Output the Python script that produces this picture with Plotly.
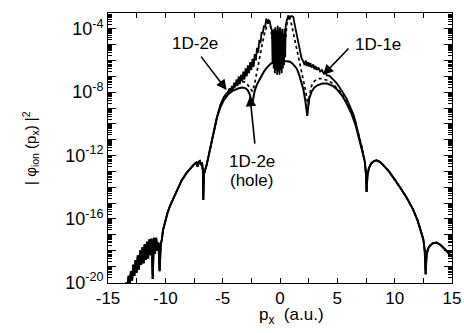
import plotly.graph_objects as go

# ---- shared wings (log10 |phi_ion(p_x)|^2) ----
wing_left_p = [-13.4, -13.3, -13.2, -13.1, -13.0, -12.9, -12.8, -12.7, -12.6, -12.5,
               -12.4, -12.3, -12.2, -12.1, -12.0, -11.9, -11.8, -11.7, -11.6, -11.5,
               -11.4, -11.3, -11.2, -11.1, -11.0, -10.9, -10.8, -10.7, -10.6, -10.5,
               -10.4, -10.3, -10.2, -10.0, -9.8, -9.6, -9.3, -9.0, -8.6, -8.15,
               -7.8, -7.55, -7.3, -7.2, -7.1, -7.0, -6.9, -6.8, -6.72, -6.69,
               -6.64, -6.5, -6.4, -6.25, -6.1, -5.95, -5.8, -5.65, -5.5]
wing_left_log = [-20.0, -20.3, -19.6, -20.1, -19.3, -19.9, -18.9, -19.6, -18.6, -19.4,
                 -18.3, -19.2, -18.0, -18.9, -17.8, -18.8, -17.6, -18.6, -17.45, -18.5,
                 -17.3, -18.3, -17.25, -19.8, -17.2, -18.2, -17.2, -18.0, -17.5, -19.3,
                 -17.6, -17.3, -16.7, -16.1, -15.6, -15.2, -14.7, -14.2, -13.6, -13.1,
                 -12.8, -12.6, -12.45, -12.7, -12.4, -12.35, -12.6, -12.45, -13.0, -14.8,
                 -13.2, -12.9, -12.6, -12.1, -11.6, -11.0, -10.5, -10.0, -9.6]

wing_right_p = [7.4, 7.5, 7.55, 7.62, 7.75, 7.95, 8.2, 8.42, 8.7, 9.0,
                9.5, 10.0, 10.46, 11.0, 11.6, 12.0, 12.3, 12.5, 12.62, 12.7,
                12.78, 12.9, 13.07, 13.3, 13.65, 14.0, 14.5, 15.0]
wing_right_log = [-12.4, -13.2, -14.3, -13.3, -12.8, -12.5, -12.35, -12.3, -12.4, -12.6,
                  -13.0, -13.5, -14.0, -14.6, -15.4, -16.1, -16.8, -17.3, -18.0, -19.5,
                  -18.3, -17.9, -17.7, -17.55, -17.5, -17.65, -18.0, -18.4]

# ---- 1D-1e (solid, upper) centre ----
one_e_p = [-5.2, -4.9, -4.7, -4.54, -4.4, -4.3, -4.2, -4.1, -4.0, -3.9,
           -3.8, -3.7, -3.6, -3.5, -3.4, -3.3, -3.2, -3.1, -3.0, -2.9,
           -2.8, -2.7, -2.6, -2.5, -2.4, -2.3, -2.2, -2.1, -2.0, -1.9,
           -1.8, -1.7, -1.6, -1.5, -1.4, -1.3, -1.2, -1.1, -1.0, -0.9,
           -0.8, -0.7, -0.65, -0.6, -0.55, -0.5, -0.45, -0.4, -0.35, -0.3,
           -0.25, -0.2, -0.15, -0.1, -0.05, 0.0, 0.05, 0.1, 0.15, 0.2,
           0.25, 0.3, 0.35, 0.4, 0.45, 0.5, 0.6, 0.72, 0.85, 0.95,
           1.05, 1.16, 1.3, 1.45, 1.6, 1.74, 1.88, 2.03, 2.15, 2.25,
           2.35, 2.45, 2.55, 2.65, 2.75, 2.9, 3.0, 3.1, 3.2, 3.35,
           3.5, 3.65, 3.8, 3.95, 4.1, 4.3, 4.5, 4.7, 4.9, 5.1,
           5.3, 5.55, 5.8, 6.0, 6.2, 6.4, 6.6, 6.8, 7.0, 7.2]
one_e_log = [-8.8, -8.3, -8.1, -8.0, -7.75, -8.0, -7.6, -7.9, -7.4, -7.7,
             -7.2, -7.6, -7.0, -7.5, -6.9, -7.3, -6.7, -7.2, -6.5, -7.0,
             -6.3, -6.8, -6.1, -6.6, -5.9, -6.4, -5.6, -6.0, -5.2, -5.5,
             -4.7, -4.9, -4.2, -4.3, -3.8, -3.9, -3.35, -3.6, -3.45, -3.5,
             -3.9, -4.1, -6.2, -4.2, -6.5, -4.0, -6.8, -3.9, -6.6, -4.1,
             -6.9, -3.8, -6.7, -4.0, -6.9, -3.9, -6.6, -4.1, -6.8, -4.0,
             -6.5, -4.3, -6.3, -4.0, -5.8, -3.8, -3.45, -3.15, -3.35, -3.2,
             -3.2, -3.25, -3.8, -4.3, -4.85, -5.4, -5.85, -6.06, -6.3, -6.0,
             -6.35, -6.1, -6.4, -6.15, -6.45, -6.25, -6.55, -6.35, -6.6, -6.45,
             -6.7, -6.6, -6.8, -6.75, -6.95, -6.95, -7.1, -7.2, -7.4, -7.6,
             -7.8, -8.1, -8.4, -8.7, -9.0, -9.4, -9.9, -10.5, -11.1, -11.8]

# ---- 1D-2e (dotted) centre ----
two_e_p = [-5.2, -4.9, -4.6, -4.3, -4.0, -3.7, -3.4, -3.1, -2.85, -2.6,
           -2.4, -2.25, -2.1, -1.95, -1.8, -1.65, -1.5, -1.35, -1.2, -1.05,
           -0.9, -0.8, -0.7, -0.6, -0.5, -0.4, -0.3, -0.2, -0.1, 0.0,
           0.1, 0.2, 0.3, 0.4, 0.5, 0.6, 0.72, 0.85, 1.0, 1.15,
           1.3, 1.5, 1.75, 2.03, 2.2, 2.35, 2.47, 2.58, 2.75, 3.0,
           3.3, 3.7, 4.1, 4.5, 4.93, 5.3, 5.7, 6.1, 6.5, 6.9, 7.2]
two_e_log = [-8.85, -8.4, -8.05, -7.8, -7.6, -7.45, -7.35, -7.35, -7.5, -7.75,
             -7.95, -7.6, -7.0, -6.4, -5.8, -5.3, -4.8, -4.3, -3.9, -3.6,
             -3.65, -3.95, -4.6, -4.1, -5.2, -4.3, -5.5, -4.4, -5.6, -4.5,
             -5.5, -4.4, -5.3, -4.2, -4.6, -3.7, -3.35, -3.4, -3.7, -4.2,
             -4.7, -5.3, -6.1, -7.1, -7.8, -8.4, -8.8, -8.2, -7.6, -7.3,
             -7.15, -7.15, -7.25, -7.4, -7.7, -8.0, -8.45, -8.95, -9.7, -10.7, -11.6]

# ---- 1D-2e (hole) (solid, lower) centre ----
hole_p = [-5.2, -4.9, -4.54, -4.1, -3.6, -3.3, -3.08, -2.85, -2.65, -2.5,
          -2.42, -2.33, -2.2, -2.0, -1.8, -1.63, -1.4, -1.2, -1.05, -0.8,
          -0.5, -0.18, 0.2, 0.6, 0.87, 1.1, 1.3, 1.45, 1.65, 1.85,
          2.03, 2.2, 2.32, 2.38, 2.45, 2.55, 2.76, 3.0, 3.3, 3.7,
          4.1, 4.6, 5.0, 5.4, 5.8, 6.2, 6.6, 7.0, 7.2]
hole_log = [-8.95, -8.5, -8.15, -7.9, -7.75, -7.7, -7.73, -7.85, -8.1, -8.5,
            -8.8, -8.4, -7.9, -7.5, -7.2, -7.0, -6.7, -6.5, -6.38, -6.2,
            -6.1, -6.06, -6.05, -6.05, -6.08, -6.2, -6.35, -6.5, -6.85, -7.3,
            -7.8, -8.5, -9.2, -9.5, -9.0, -8.4, -7.95, -7.7, -7.55, -7.45,
            -7.45, -7.6, -7.85, -8.2, -8.7, -9.3, -10.1, -11.15, -11.8]

x_ticks = [-15, -10, -5, 0, 5, 10, 15]
x_tick_text = ["-15", "-10", "-5", "0", "5", "10", "15"]
y_label_exps = [-20, -16, -12, -8, -4]
y_decades = list(range(-20, -2))


def build(cp, cl):
    xs = wing_left_p + cp + wing_right_p
    ys = [10 ** v for v in wing_left_log + cl + wing_right_log]
    return xs, ys


fig = go.Figure()
for cp, cl, dash, w in [(hole_p, hole_log, "solid", 2.0),
                        (two_e_p, two_e_log, "dot", 1.7),
                        (one_e_p, one_e_log, "solid", 1.8)]:
    xs, ys = build(cp, cl)
    fig.add_trace(go.Scatter(x=xs, y=ys, mode="lines",
                             line=dict(color="black", width=w, dash=dash),
                             showlegend=False, hoverinfo="skip"))
# empty trace so that the decade-tick overlay axis is drawn
fig.add_trace(go.Scatter(x=[], y=[], yaxis="y2", showlegend=False, hoverinfo="skip"))

FONT = "Liberation Sans, Arial, Helvetica, sans-serif"
YRANGE = [-20.05, -3.0]

fig.update_layout(
    width=464, height=333,
    margin=dict(l=108, r=12, t=13, b=50, autoexpand=False),
    paper_bgcolor="white", plot_bgcolor="white",
    font=dict(family=FONT, color="black", size=17),
    xaxis=dict(range=[-15, 15], tickmode="array", tickvals=x_ticks, ticktext=x_tick_text,
               ticks="inside", ticklen=5, tickwidth=1, tickcolor="black",
               minor=dict(ticks="inside", ticklen=5, tickwidth=1, tickcolor="black",
                          tickmode="linear", tick0=-15, dtick=2.5),
               showline=True, linecolor="black", linewidth=1, mirror="ticks",
               showgrid=False, zeroline=False, automargin=False,
               tickfont=dict(size=17, family=FONT)),
    yaxis=dict(type="log", range=YRANGE, tickmode="array",
               tickvals=[10.0 ** k for k in y_label_exps],
               ticktext=["10<sup>%d</sup>" % k for k in y_label_exps],
               ticks="inside", ticklen=8, tickwidth=1, tickcolor="black",
               minor=dict(ticks="inside", ticklen=4, tickwidth=1, tickcolor="black",
                          dtick="D1"),
               showline=True, linecolor="black", linewidth=1, mirror="ticks",
               showgrid=False, zeroline=False, automargin=False,
               tickfont=dict(size=18, family=FONT)),
    yaxis2=dict(type="log", range=YRANGE, overlaying="y", side="left",
                tickmode="array", tickvals=[10.0 ** k for k in y_decades],
                showticklabels=False, ticks="inside", ticklen=8, tickwidth=1,
                tickcolor="black", showline=False, mirror="ticks",
                showgrid=False, zeroline=False, automargin=False),
)

ann_font = dict(family=FONT, size=17, color="black")
# text labels
fig.add_annotation(x=-7.41, y=-4.9, xref="x", yref="y", text="1D-2e", showarrow=False, font=ann_font)
fig.add_annotation(x=-2.44, y=-12.35, xref="x", yref="y", text="1D-2e", showarrow=False, font=ann_font)
fig.add_annotation(x=-2.5, y=-13.6, xref="x", yref="y", text="(hole)", showarrow=False, font=ann_font)
fig.add_annotation(x=8.55, y=-5.02, xref="x", yref="y", text="1D-1e", showarrow=False, font=ann_font)
# arrows
for tip, tail in [((-4.65, -7.87), (-6.98, -5.66)),
                  ((-2.62, -8.24), (-2.18, -11.34)),
                  ((3.75, -6.92), (6.10, -5.15))]:
    fig.add_annotation(x=tip[0], y=tip[1], ax=tail[0], ay=tail[1], xref="x", yref="y",
                       axref="x", ayref="y", text="", showarrow=True,
                       arrowhead=2, arrowsize=1.3, arrowwidth=1.6, arrowcolor="black")

# axis titles
fig.add_annotation(x=-0.227, y=0.5, xref="paper", yref="paper", textangle=-90,
                   text="| \u03c6<sub>ion</sub> (p<sub>x</sub>) |<sup>2</sup>",
                   showarrow=False, font=dict(family=FONT, size=15, color="black"),
                   xanchor="center", yanchor="middle")
fig.add_annotation(x=0.532, y=-0.122, xref="paper", yref="paper",
                   text="p<sub>x</sub>  (a.u.)", showarrow=False,
                   font=dict(family=FONT, size=17, color="black"),
                   xanchor="center", yanchor="middle")

fig.write_html("out.html", config={"displayModeBar": False},
               post_script="document.body.style.margin='0';document.body.style.padding='0';")
